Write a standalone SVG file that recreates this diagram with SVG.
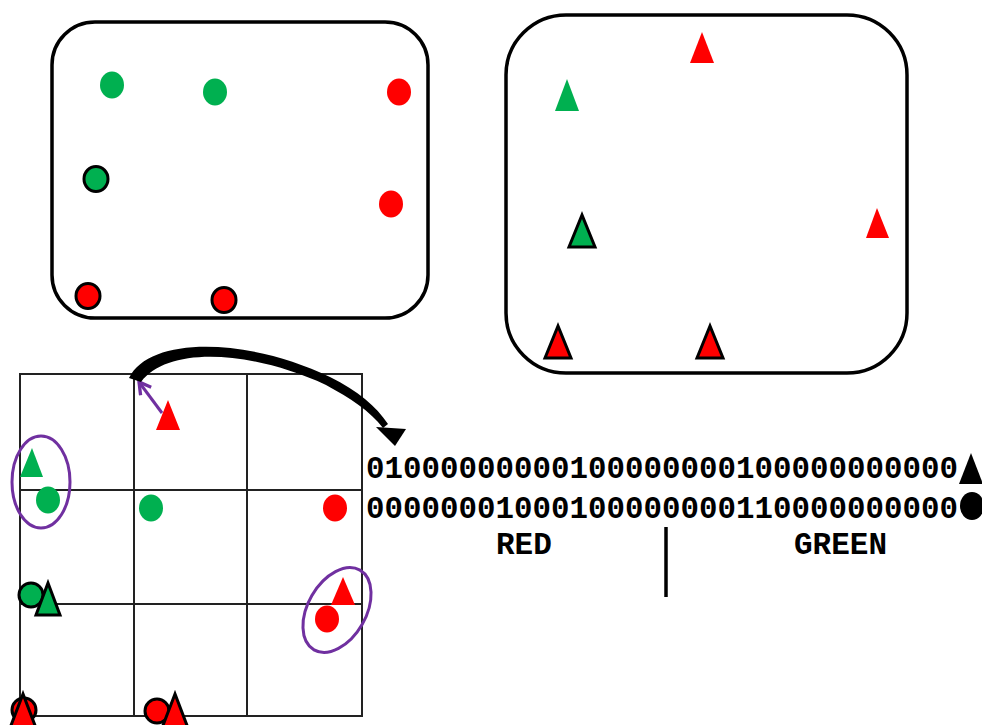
<svg xmlns="http://www.w3.org/2000/svg" width="982" height="725" viewBox="0 0 982 725">
<defs>
<style>
.box{fill:none;stroke:#000;stroke-width:3.5}
.g{fill:#00B050}
.r{fill:#FF0000}
.o{stroke:#000;stroke-width:3;stroke-linejoin:miter}
.grid{fill:none;stroke:#222;stroke-width:2}
.sel{fill:none;stroke:#7030A0;stroke-width:3}
.bits{font-family:"Liberation Mono","Courier New",monospace;font-weight:bold;font-size:31px;fill:#000}
</style>
<marker id="ph" viewBox="0 0 10 10" refX="8.5" refY="5" markerWidth="5.5" markerHeight="5.5" orient="auto-start-reverse" markerUnits="strokeWidth">
<path d="M1.5 1 L8.5 5 L1.5 9" fill="none" stroke="#7030A0" stroke-width="2"/>
</marker>
</defs>
<rect width="982" height="725" fill="#fff"/>

<g id="circles-panel">
<rect class="box" x="52" y="22" width="376" height="296" rx="43"/>
<ellipse class="g" cx="112" cy="85" rx="12" ry="13.5"/>
<ellipse class="g" cx="215" cy="92" rx="12" ry="13.5"/>
<ellipse class="r" cx="399" cy="92" rx="12" ry="13.5"/>
<ellipse class="g o" cx="96" cy="179" rx="12" ry="12.5"/>
<ellipse class="r" cx="391" cy="204" rx="12" ry="13.5"/>
<ellipse class="r o" cx="88" cy="296" rx="12" ry="12.5"/>
<ellipse class="r o" cx="224" cy="300" rx="12" ry="12.5"/>
</g>

<g id="triangles-panel">
<rect class="box" x="506" y="15" width="401" height="358" rx="60"/>
<polygon class="r" points="702,32 690,63 714,63"/>
<polygon class="g" points="567,79 555,111 579,111"/>
<polygon class="g o" points="582,215 569,247 595,247"/>
<polygon class="r" points="877,208 866,238 889,238"/>
<polygon class="r o" points="558,326 545,358 571,358"/>
<polygon class="r o" points="710,326 697,358 723,358"/>
</g>

<g id="grid">
<rect class="grid" x="20" y="374" width="342" height="342"/>
<line class="grid" x1="134" y1="374" x2="134" y2="716"/>
<line class="grid" x1="247" y1="374" x2="247" y2="716"/>
<line class="grid" x1="20" y1="490" x2="362" y2="490"/>
<line class="grid" x1="20" y1="604" x2="362" y2="604"/>
</g>

<g id="grid-items">
<polygon class="r" points="168,400 156,430 180,430"/>
<polygon class="g" points="32,448 20,477 43,477"/>
<ellipse class="g" cx="48" cy="500" rx="12" ry="13.5"/>
<ellipse class="g" cx="151" cy="508" rx="12" ry="13.5"/>
<ellipse class="r" cx="335" cy="508" rx="12" ry="13.5"/>
<ellipse class="g o" cx="31" cy="595" rx="12" ry="12"/>
<polygon class="g o" points="48,583 36,615 60,615"/>
<polygon class="r" points="343,577 331,605 355,605"/>
<ellipse class="r" cx="327" cy="619" rx="12" ry="13.5"/>
<ellipse class="r o" cx="24" cy="710" rx="12" ry="12"/>
<polygon class="r o" points="23,694 10,728 36,728"/>
<ellipse class="r o" cx="157" cy="711" rx="12" ry="12"/>
<polygon class="r o" points="175,694 162,728 188,728"/>
</g>

<g id="selections">
<ellipse class="sel" cx="41" cy="482" rx="29" ry="46"/>
<ellipse class="sel" cx="337" cy="610" rx="29" ry="46" transform="rotate(30 337 610)"/>
</g>

<g id="connectors">
<line x1="162" y1="413" x2="139" y2="382" stroke="#7030A0" stroke-width="3" marker-end="url(#ph)"/>
<path d="M129 378 C150 335 250 338 330 377 C358 391 376 406 388 424 L383 428 C370 411 350 398 326 385 C250 350 168 346 141 382 Z" fill="#000"/>
<polygon points="376,427 406,429 395,446" fill="#000"/>
</g>

<g id="bit-strings">
<text class="bits" x="366" y="478" textLength="592" lengthAdjust="spacingAndGlyphs">01000000000100000000100000000000</text>
<text class="bits" x="366" y="518" textLength="592" lengthAdjust="spacingAndGlyphs">00000001000100000000110000000000</text>
<polygon points="971,453 959,484 983,484" fill="#000"/>
<ellipse cx="972" cy="506" rx="12" ry="14" fill="#000"/>
<text class="bits" x="496" y="554">RED</text>
<text class="bits" x="794" y="554">GREEN</text>
<line x1="666" y1="527" x2="666" y2="597" stroke="#000" stroke-width="3.5"/>
</g>
</svg>
